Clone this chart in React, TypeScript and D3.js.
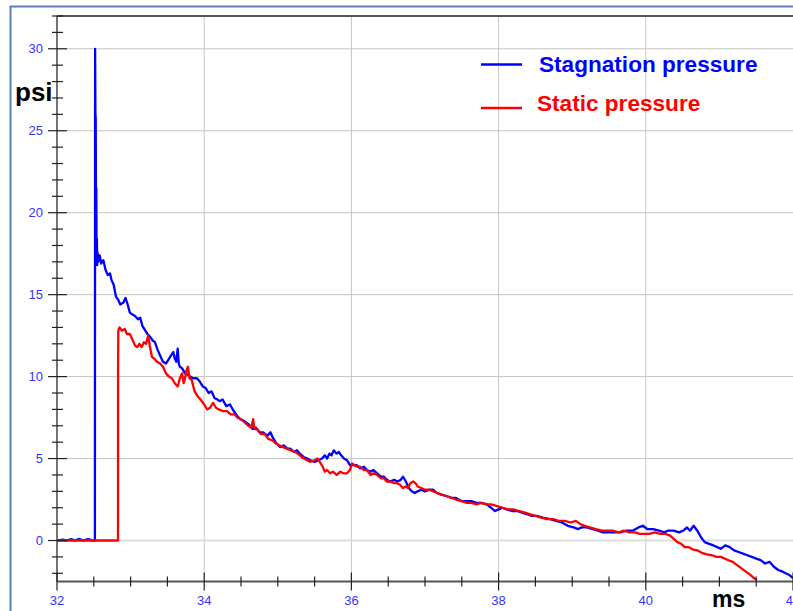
import React from "react";
import * as d3 from "d3";

const W = 793;
const H = 611;

const xTicksMajor = [32, 34, 36, 38, 40, 42];
const yTicksMajor = [0, 5, 10, 15, 20, 25, 30];
const legendItems = ["Stagnation pressure", "Static pressure"];
const seriesColors = ["#0000ff", "#ff0000"];

const stagnation: [number, number][] = [
  [32.0, 0], [32.08, 0.05], [32.12, 0], [32.2, 0.08], [32.25, 0], [32.3, 0.1], [32.35, 0], [32.42, 0.08], [32.5, 0], [32.515, 0],
  [32.518, 30.0], [32.522, 26.0], [32.526, 25.8], [32.53, 20.0], [32.534, 21.5], [32.538, 17.0], [32.542, 18.4], [32.546, 16.8], [32.55, 17.6],
  [32.56, 17.0], [32.58, 17.4], [32.6, 16.9], [32.63, 17.1], [32.66, 16.5], [32.69, 16.2], [32.72, 16.3], [32.74, 15.9], [32.77, 15.6],
  [32.8, 14.9], [32.83, 14.7], [32.86, 14.4], [32.9, 14.5], [32.93, 14.8], [32.96, 14.4], [32.99, 13.9], [33.02, 13.8], [33.06, 13.7],
  [33.1, 13.5], [33.13, 13.6], [33.16, 13.1], [33.2, 12.8], [33.23, 12.6], [33.27, 12.4], [33.3, 12.2], [33.33, 12.1], [33.37, 11.6],
  [33.41, 11.2], [33.44, 10.9], [33.48, 10.8], [33.51, 11.0], [33.55, 11.3], [33.58, 11.5], [33.6, 11.1], [33.62, 10.9], [33.64, 11.7],
  [33.655, 10.8], [33.67, 10.6], [33.7, 10.5], [33.74, 10.2], [33.78, 10.1], [33.81, 10.0], [33.85, 9.9], [33.9, 9.9], [33.94, 9.7],
  [33.98, 9.4], [34.02, 9.3], [34.06, 9.0], [34.1, 9.1], [34.14, 8.7], [34.18, 8.6], [34.21, 8.5], [34.25, 8.6], [34.3, 8.2], [34.35, 8.3],
  [34.4, 7.9], [34.45, 7.6], [34.49, 7.4], [34.54, 7.3], [34.6, 7.1], [34.66, 6.8], [34.7, 6.9], [34.75, 6.6], [34.8, 6.6], [34.86, 6.4],
  [34.9, 6.6], [34.93, 6.3], [34.97, 6.0], [35.03, 5.7], [35.08, 5.8], [35.13, 5.6], [35.17, 5.6], [35.22, 5.4], [35.26, 5.5], [35.3, 5.3],
  [35.35, 5.1], [35.4, 5.0], [35.44, 4.9], [35.5, 4.8], [35.55, 4.9], [35.6, 5.0], [35.64, 5.2], [35.67, 5.0], [35.7, 5.3], [35.73, 5.2],
  [35.76, 5.5], [35.8, 5.3], [35.83, 5.4], [35.86, 5.2], [35.9, 5.0], [35.94, 4.9], [35.98, 4.6], [36.02, 4.6], [36.07, 4.6], [36.12, 4.4],
  [36.17, 4.5], [36.21, 4.3], [36.26, 4.2], [36.3, 4.3], [36.35, 4.1], [36.4, 3.9], [36.44, 3.9], [36.48, 3.7], [36.53, 3.6], [36.58, 3.7],
  [36.63, 3.6], [36.67, 3.7], [36.7, 3.9], [36.74, 3.6], [36.78, 3.2], [36.82, 3.0], [36.86, 2.9], [36.9, 3.0], [36.95, 3.1], [37.0, 3.0],
  [37.06, 3.1], [37.11, 3.1], [37.16, 2.9], [37.22, 2.8], [37.3, 2.7], [37.36, 2.6], [37.42, 2.6], [37.5, 2.4], [37.57, 2.4], [37.63, 2.4],
  [37.7, 2.3], [37.76, 2.3], [37.84, 2.2], [37.9, 2.0], [37.95, 1.8], [38.0, 1.9], [38.05, 2.0], [38.11, 1.9], [38.18, 1.8], [38.25, 1.8],
  [38.32, 1.7], [38.39, 1.6], [38.45, 1.5], [38.52, 1.5], [38.6, 1.4], [38.7, 1.3], [38.78, 1.2], [38.86, 1.1], [38.94, 0.9], [39.02, 0.8],
  [39.08, 0.7], [39.13, 0.8], [39.2, 0.8], [39.28, 0.7], [39.35, 0.6], [39.42, 0.5], [39.5, 0.5], [39.58, 0.5], [39.65, 0.5], [39.74, 0.6],
  [39.82, 0.6], [39.9, 0.8], [39.96, 0.9], [40.02, 0.7], [40.1, 0.7], [40.18, 0.6], [40.25, 0.5], [40.3, 0.6], [40.38, 0.6], [40.45, 0.5],
  [40.51, 0.6], [40.56, 0.8], [40.6, 0.6], [40.65, 0.9], [40.7, 0.6], [40.75, 0.2], [40.8, -0.1], [40.86, -0.2], [40.92, -0.3], [40.97, -0.4],
  [41.02, -0.5], [41.08, -0.3], [41.14, -0.4], [41.2, -0.6], [41.26, -0.7], [41.32, -0.8], [41.38, -0.9], [41.44, -1.0], [41.5, -1.1],
  [41.56, -1.2], [41.62, -1.4], [41.68, -1.3], [41.74, -1.6], [41.8, -1.8], [41.86, -1.9], [41.9, -2.0], [41.95, -2.1], [42.0, -2.3],
];

const staticP: [number, number][] = [
  [32.0, 0], [32.829, 0], [32.83, 10.7], [32.833, 12.8], [32.85, 13.0], [32.88, 12.8], [32.92, 12.9], [32.95, 12.6], [32.99, 12.6],
  [33.03, 12.2], [33.06, 11.9], [33.09, 11.8], [33.12, 12.0], [33.15, 11.8], [33.18, 12.1], [33.21, 12.0], [33.24, 12.5], [33.26, 11.9],
  [33.29, 11.2], [33.32, 11.1], [33.36, 10.9], [33.4, 10.8], [33.44, 10.6], [33.48, 10.2], [33.52, 10.0], [33.56, 9.9], [33.6, 9.6],
  [33.64, 9.4], [33.67, 9.9], [33.7, 10.2], [33.72, 9.6], [33.74, 9.9], [33.76, 10.4], [33.78, 10.6], [33.8, 9.9], [33.83, 9.8],
  [33.87, 9.1], [33.91, 8.8], [33.95, 8.6], [34.0, 8.3], [34.04, 8.0], [34.08, 8.1], [34.12, 8.4], [34.16, 8.1], [34.2, 8.0], [34.25, 7.9],
  [34.31, 7.9], [34.36, 7.7], [34.41, 7.7], [34.45, 7.5], [34.5, 7.4], [34.55, 7.2], [34.6, 7.0], [34.64, 6.9], [34.665, 7.4], [34.68, 6.8],
  [34.72, 6.8], [34.77, 6.5], [34.82, 6.5], [34.87, 6.2], [34.93, 6.1], [34.98, 5.9], [35.03, 5.8], [35.07, 5.7], [35.12, 5.6], [35.18, 5.5],
  [35.24, 5.4], [35.3, 5.2], [35.35, 5.0], [35.4, 4.9], [35.44, 4.8], [35.5, 4.9], [35.54, 5.0], [35.57, 4.8], [35.61, 4.5], [35.64, 4.2],
  [35.67, 4.3], [35.71, 4.1], [35.75, 4.2], [35.8, 4.0], [35.85, 4.2], [35.89, 4.1], [35.94, 4.1], [35.98, 4.3], [36.01, 4.7], [36.04, 4.6],
  [36.08, 4.5], [36.12, 4.5], [36.17, 4.3], [36.21, 4.3], [36.26, 4.0], [36.3, 4.1], [36.35, 4.0], [36.4, 3.8], [36.44, 3.8], [36.48, 3.6],
  [36.53, 3.6], [36.58, 3.5], [36.62, 3.5], [36.66, 3.4], [36.7, 3.2], [36.74, 3.3], [36.77, 3.2], [36.8, 3.5], [36.84, 3.6], [36.87, 3.5],
  [36.9, 3.3], [36.95, 3.2], [37.0, 3.1], [37.06, 3.1], [37.11, 3.0], [37.17, 2.9], [37.23, 2.8], [37.3, 2.7], [37.36, 2.6], [37.42, 2.5],
  [37.5, 2.4], [37.57, 2.3], [37.63, 2.3], [37.7, 2.2], [37.76, 2.3], [37.84, 2.2], [37.9, 2.2], [37.98, 2.1], [38.05, 2.0], [38.12, 1.9],
  [38.2, 1.9], [38.28, 1.8], [38.36, 1.7], [38.43, 1.6], [38.5, 1.5], [38.58, 1.4], [38.66, 1.3], [38.74, 1.3], [38.82, 1.2], [38.9, 1.2],
  [38.98, 1.1], [39.05, 1.2], [39.11, 1.0], [39.17, 0.9], [39.24, 0.8], [39.32, 0.7], [39.4, 0.6], [39.47, 0.6], [39.55, 0.6], [39.63, 0.5],
  [39.7, 0.6], [39.78, 0.5], [39.86, 0.5], [39.92, 0.4], [39.98, 0.4], [40.05, 0.4], [40.12, 0.5], [40.2, 0.4], [40.27, 0.4], [40.33, 0.3],
  [40.38, 0.1], [40.43, -0.1], [40.48, -0.2], [40.53, -0.4], [40.58, -0.4], [40.64, -0.55], [40.7, -0.6], [40.76, -0.75], [40.83, -0.85],
  [40.9, -0.9], [40.96, -1.0], [41.02, -1.0], [41.07, -1.1], [41.12, -1.2], [41.18, -1.3], [41.24, -1.5], [41.3, -1.7], [41.36, -1.9],
  [41.42, -2.1], [41.47, -2.3], [41.51, -2.4],
];

export default function App() {
  const left = 57, right = 793, top = 16, bottom = 581.5;
  const x = d3.scaleLinear().domain([32, 42]).range([left, right]);
  const y = d3.scaleLinear().domain([-2.5, 32]).range([bottom, top]);
  const line = d3.line<[number, number]>().x((d) => x(d[0])).y((d) => y(d[1]));

  const xMinor = d3.range(32, 42.001, 0.5);
  const yMinor = d3.range(-2, 32.001, 1);
  const font = "Arial, 'Liberation Sans', sans-serif";
  const tickColor = "#3333ff";

  return (
    <svg width={W} height={H} style={{ position: "absolute", left: 0, top: 0, background: "#fff" }}>
      <defs>
        <clipPath id="plot">
          <rect x={left} y={top} width={right - left} height={bottom - top} />
        </clipPath>
      </defs>
      {/* outer frame */}
      <line x1={10.5} x2={10.5} y1={6} y2={H} stroke="#5b80b5" strokeWidth={2} />
      <line x1={10} x2={W} y1={6.5} y2={6.5} stroke="#5b80b5" strokeWidth={2} />

      {/* grid */}
      {xTicksMajor.filter((t) => t > 32 && t < 42).map((t) => (
        <line key={"gx" + t} x1={x(t)} x2={x(t)} y1={top} y2={bottom} stroke="#c8c8c8" strokeWidth={1} />
      ))}
      {yTicksMajor.map((t) => (
        <line key={"gy" + t} x1={left} x2={right} y1={y(t)} y2={y(t)} stroke={t === 0 ? "#dcdcdc" : "#c4c4c4"} strokeWidth={t === 0 ? 2 : 1} />
      ))}

      {/* top border */}
      <line x1={left} x2={W} y1={top} y2={top} stroke="#555" strokeWidth={2} />

      {/* series */}
      <g clipPath="url(#plot)">
        <path d={line(stagnation) || ""} fill="none" stroke={seriesColors[0]} strokeWidth={2.3} strokeLinejoin="round" />
        <path d={line(staticP) || ""} fill="none" stroke={seriesColors[1]} strokeWidth={2.3} strokeLinejoin="round" />
      </g>

      {/* axes */}
      <line x1={left} x2={left} y1={top} y2={bottom} stroke="#444" strokeWidth={1.5} />
      <line x1={left} x2={W} y1={bottom} y2={bottom} stroke="#555" strokeWidth={2} />
      {yMinor.map((t) => {
        const major = t % 5 === 0;
        return (
          <line key={"yt" + t} x1={major ? left - 9 : left - 5} x2={major ? left + 10 : left + 6} y1={y(t)} y2={y(t)} stroke="#222" strokeWidth={1.2} />
        );
      })}
      {xMinor.map((t) => {
        const major = Math.abs(t % 2) < 1e-6;
        return (
          <line key={"xt" + t} x1={x(t)} x2={x(t)} y1={major ? bottom - 9 : bottom - 5} y2={major ? bottom + 9 : bottom + 5} stroke="#222" strokeWidth={1.2} />
        );
      })}
      {yTicksMajor.map((t) => (
        <text key={"yl" + t} x={43} y={y(t)} dy="0.36em" textAnchor="end" fontFamily={font} fontSize={13} fill={tickColor}>
          {t}
        </text>
      ))}
      {xTicksMajor.map((t) => (
        <text key={"xl" + t} x={x(t)} y={605} textAnchor="middle" fontFamily={font} fontSize={13} fill={tickColor}>
          {t}
        </text>
      ))}

      {/* axis titles */}
      <text x={15} y={101} fontFamily={font} fontWeight="bold" fontSize={26} fill="#000">psi</text>
      <text x={712} y={607} fontFamily={font} fontWeight="bold" fontSize={23} fill="#000">ms</text>

      {/* legend */}
      {legendItems.map((name, i) => (
        <g key={name}>
          <line x1={481} x2={522} y1={i === 0 ? 64.5 : 108} y2={i === 0 ? 64.5 : 108} stroke={seriesColors[i]} strokeWidth={2.5} />
          <text x={i === 0 ? 539 : 537} y={i === 0 ? 72 : 111} fontFamily={font} fontWeight="bold" fontSize={22.6} fill={seriesColors[i]}>
            {name}
          </text>
        </g>
      ))}
    </svg>
  );
}
